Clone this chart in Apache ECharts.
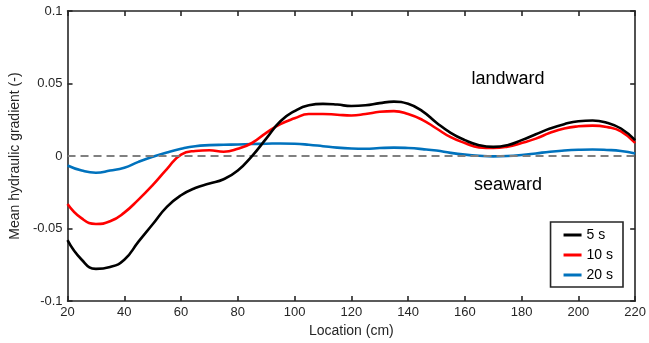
<!DOCTYPE html>
<html><head><meta charset="utf-8">
<script src="https://cdn.jsdelivr.net/npm/echarts@6/dist/echarts.min.js"></script>
<style>html,body{margin:0;padding:0;background:#fff}#c{width:649px;height:343px}</style>
</head><body><div id="c"></div>
<script>
const locations = [20,25,30,35,40,45,50,55,60,65,70,75,80,85,90,95,100,105,110,115,120,125,130,135,140,145,150,155,160,165,170,175,180,185,190,195,200,205,210,215,220];
const s5 = [-0.058,-0.0715,-0.0778,-0.0765,-0.0715,-0.059,-0.047,-0.035,-0.027,-0.022,-0.019,-0.016,-0.010,0.000,0.012,0.024,0.031,0.035,0.036,0.0355,0.0345,0.035,0.0365,0.0375,0.036,0.031,0.023,0.016,0.011,0.0075,0.0063,0.0075,0.011,0.015,0.019,0.022,0.024,0.0245,0.023,0.019,0.011];
const s10 = [-0.033,-0.043,-0.0468,-0.045,-0.039,-0.030,-0.020,-0.009,0.001,0.0035,0.004,0.003,0.005,0.009,0.016,0.022,0.026,0.029,0.029,0.0285,0.028,0.029,0.0305,0.031,0.029,0.025,0.019,0.013,0.009,0.006,0.0055,0.0065,0.009,0.012,0.016,0.019,0.0205,0.021,0.020,0.017,0.009];
const s20 = [-0.0065,-0.010,-0.0115,-0.010,-0.008,-0.004,-0.0005,0.0025,0.005,0.0068,0.0075,0.0078,0.008,0.0083,0.0085,0.0087,0.0085,0.0078,0.0068,0.0058,0.0052,0.005,0.0055,0.0058,0.0055,0.0048,0.0038,0.0022,0.001,0.0002,-0.0002,0.0,0.0007,0.0018,0.003,0.0038,0.0043,0.0045,0.0042,0.0035,0.0018];
const seriesNames = ['5 s','10 s','20 s'];
const seriesColors = ['#000000','#ff0000','#0072bd'];
const yTickLabels = {'0.1':'0.1','0.05':'0.05','0':'0','-0.05':'-0.05','-0.1':'-0.1'};

const chart = echarts.init(document.getElementById('c'), null, {renderer:'canvas'});
const font = 'Liberation Sans, Arial, sans-serif';
const axLine = {show:true, onZero:false, lineStyle:{color:'#262626', width:1.6}};
const tick = {show:true, inside:true, length:5, lineStyle:{color:'#262626', width:1.6}};
function pairs(arr){ return locations.map((x,i)=>[x,arr[i]]); }
const data = [s5,s10,s20];
const series = data.map((d,i)=>({
  name: seriesNames[i], type:'line', data: pairs(d), smooth:0.5, showSymbol:false,
  lineStyle:{color:seriesColors[i], width:2.6}, itemStyle:{color:seriesColors[i]}, z:3+(2-i)
}));
series.push({
  name:'zero', type:'line', data:[], silent:true,
  markLine:{symbol:'none', silent:true, label:{show:false},
    lineStyle:{color:'#808080', type:[8,5], width:2}, data:[{yAxis:0}]}, z:2
});
chart.setOption({
  animation:false,
  grid:{left:59, right:10, top:11, bottom:33},
  legend:{
    data: seriesNames, orient:'vertical', right:26, top:222,
    itemWidth:18, itemHeight:3, itemGap:6, icon:'rect',
    backgroundColor:'#fff', borderColor:'#262626', borderWidth:1.6,
    padding:[6,10,5,13], textStyle:{fontFamily:font, fontSize:14, color:'#000'}
  },
  xAxis:[
    {type:'value', min:20, max:220, interval:20, position:'bottom',
     axisLine:axLine, axisTick:tick, splitLine:{show:false},
     axisLabel:{fontFamily:font, fontSize:13, color:'#262626', margin:5},
     name:'Location (cm)', nameLocation:'middle', nameGap:10,
     nameTextStyle:{fontFamily:font, fontSize:14, color:'#262626', verticalAlign:'top'}},
    {type:'value', min:20, max:220, interval:20, position:'top',
     axisLine:axLine, axisTick:tick, splitLine:{show:false}, axisLabel:{show:false}}
  ],
  yAxis:[
    {type:'value', min:-0.1, max:0.1, interval:0.05, position:'left',
     axisLine:axLine, axisTick:tick, splitLine:{show:false},
     axisLabel:{fontFamily:font, fontSize:13, color:'#262626', margin:5,
       formatter:v=>{const k=String(Math.round(v*100)/100); return yTickLabels[k]!==undefined?yTickLabels[k]:k;}},
     name:'Mean hydraulic gradient (-)', nameLocation:'middle', nameGap:34,
     nameTextStyle:{fontFamily:font, fontSize:14, color:'#262626'}},
    {type:'value', min:-0.1, max:0.1, interval:0.05, position:'right',
     axisLine:axLine, axisTick:tick, splitLine:{show:false}, axisLabel:{show:false}}
  ],
  graphic:[
    {type:'text', x:508, y:79, style:{text:'landward', fontFamily:font, fontSize:18, fill:'#000', align:'center', verticalAlign:'middle'}},
    {type:'text', x:508, y:185, style:{text:'seaward', fontFamily:font, fontSize:18, fill:'#000', align:'center', verticalAlign:'middle'}}
  ],
  series: series
});
</script></body></html>
